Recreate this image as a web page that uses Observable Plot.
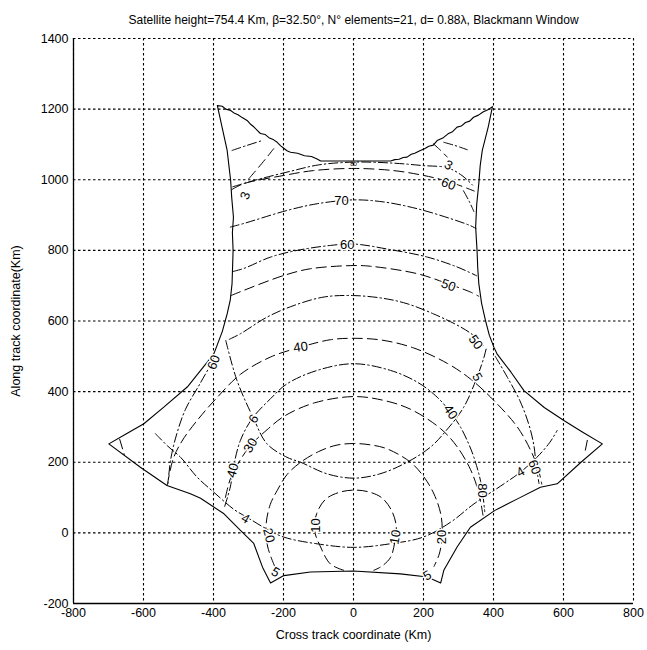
<!DOCTYPE html>
<html>
<head>
<meta charset="utf-8">
<script src="https://cdn.jsdelivr.net/npm/d3@7"></script>
<script src="https://cdn.jsdelivr.net/npm/@observablehq/plot@0.6"></script>
<style>
  html, body { margin: 0; padding: 0; background: #fff; }
  #chart { width: 647px; height: 650px; }
</style>
</head>
<body>
<div id="chart"></div>
<script>
const titleText = "Satellite height=754.4 Km, \u03B2=32.50\u00B0, N\u00B0 elements=21, d= 0.88\u03BB, Blackmann Window";
const xTicks = [-800, -600, -400, -200, 0, 200, 400, 600, 800];
const yTicks = [-200, 0, 200, 400, 600, 800, 1000, 1200, 1400];

// footprint outline (solid, slightly stair-stepped like the original)
const boundary = [
  [-389,1210],[-375,1208],[-365,1200],[-351,1196],[-340,1188],[-330,1184],[-318,1176],[-304,1168],
  [-295,1158],[-285,1150],[-275,1140],[-266,1131],[-252,1128],[-240,1118],[-228,1113],[-218,1106],
  [-208,1096],[-200,1090],[-190,1082],[-180,1078],[-160,1075],[-140,1068],[-120,1066],[-104,1059],
  [-94,1053],[0,1053],[106,1053],[118,1057],[130,1058],[142,1063],[153,1064],[165,1072],[175,1075],
  [191,1083],[203,1088],[215,1095],[228,1098],[239,1111],[255,1118],[270,1130],[283,1136],[296,1149],
  [308,1152],[320,1162],[332,1166],[343,1177],[357,1183],[370,1192],[384,1198],[397,1207],
  [385,1150],[368,1083],[362,1040],[358,989],[352,930],[349,866],[353,800],[355,750],[358,706],
  [366,650],[377,602],[388,560],[401,526],[410,507],
  [450,455],[487,403],[545,355],[601,318],[655,285],[711,252],
  [650,200],[582,139],[534,129],[470,97],[403,63],[334,16],[296,-40],[258,-106],[249,-142],
  [211,-125],[134,-116],[0,-108],[-123,-111],[-199,-121],[-237,-142],
  [-260,-97],[-285,-30],[-323,7],[-370,54],[-437,98],[-466,111],[-533,134],[-609,186],[-699,252],
  [-650,280],[-599,309],[-542,356],[-475,413],[-399,507],[-375,570],[-361,620],[-352,660],[-347,706],
  [-344,800],[-346,850],[-343,894],[-348,950],[-351,998],[-356,1040],[-361,1083],[-389,1210]
];

// dashed contours
const dash10 = [[-28,-106],[-66,-88],[-94,-40],[-112,10],[-105,55],[-80,95],[-40,115],[0,121],[40,117],[80,100],[108,65],[122,20],[118,-25],[106,-69],[80,-95],[58,-106]];
const dash20 = [[-225,-95],[-245,-40],[-250,20],[-238,80],[-218,120],[-190,165],[-151,200],[-100,230],[-50,248],[0,253],[50,249],[96,238],[163,200],[200,160],[230,110],[250,50],[253,-12],[245,-60],[230,-95]];
const dash30 = [[-366,100],[-350,158],[-320,212],[-294,248],[-247,292],[-197,331],[-112,368],[0,386],[87,375],[163,350],[249,295],[296,244],[334,180],[356,120],[370,50]];
const dash40 = [[-532,135],[-515,210],[-490,260],[-447,318],[-389,384],[-323,449],[-237,498],[-151,526],[-66,547],[0,551],[80,546],[171,524],[268,480],[334,436],[401,375],[468,300],[506,234],[528,180],[538,138]];
const dash50 = [[-350,672],[-323,683],[-199,729],[-123,748],[0,757],[49,755],[182,734],[271,705],[334,682],[358,670]];
const dash50L = [[-668,265],[-655,222]];
const dash50R = [[668,262],[660,222]];
const dash60 = [[-348,972],[-313,989],[-200,1012],[-114,1026],[0,1032],[114,1026],[191,1014],[249,1001],[300,985],[345,968]];
const dashTL = [[-299,1003],[-262,1046],[-228,1088]];
const dashTR = [[228,1102],[249,1083],[268,1064]];

// dash-dot contours
const dd3 = [[-345,980],[-284,998],[-180,1024],[-100,1042],[0,1050],[114,1047],[200,1040],[268,1034],[310,1012],[340,985]];
const dd70 = [[-352,866],[-314,876],[-190,913],[-104,932],[0,943],[87,937],[182,918],[277,890],[334,870],[350,862]];
const dd60 = [[-345,740],[-313,749],[-237,781],[-161,800],[-66,814],[0,818],[106,802],[211,781],[296,753],[352,728]];
const dd50 = [[-355,548],[-323,564],[-247,611],[-170,644],[-84,668],[0,672],[86,664],[153,649],[229,620],[306,583],[343,559],[372,530]];
const ddU = [[-365,545],[-333,432],[-285,323],[-247,252],[-190,214],[-151,200],[-75,167],[0,155],[75,167],[153,200],[220,243],[265,290],[315,356],[353,441],[373,498],[380,525]];
const dd40 = [[-368,75],[-352,130],[-341,196],[-323,262],[-290,323],[-237,380],[-190,422],[-104,460],[0,479],[106,460],[182,427],[235,388],[277,342],[306,299],[330,250],[344,214],[360,160],[368,120],[375,60]];
const dd4 = [[-566,281],[-530,245],[-494,214],[-447,158],[-399,115],[-341,66],[-304,44],[-250,12],[-199,-12],[-104,-31],[0,-41],[104,-31],[199,-12],[277,30],[344,82],[430,139],[477,172],[524,214],[560,255],[582,290]];
const dd60L = [[-400,490],[-440,420],[-480,350],[-505,280],[-522,210],[-530,140]];
const dd60R = [[405,500],[440,440],[475,375],[500,310],[515,250],[522,190],[530,140]];
const ddTL = [[-347,1083],[-305,1097],[-261,1111]];
const ddTR = [[258,1106],[290,1097],[325,1085]];
const ddR = [[314,969],[330,940],[344,910]];

// contour labels
const labelText = ["3","60","3","70","60","50","50","60","40","6","5","40","30","40","4","20","10","5","10","20","5","80","4","60"];
const labelX   = [271, 271, -309, -34, -18, 271, 349, -399, -151, -285, 353, 277, -294, -345, -309, -242, -109, -223, 120, 253, 211, 368, 477, 517];
const labelY   = [1041, 988, 955, 941, 817, 701, 540, 483, 526, 323, 441, 342, 248, 177, 40, -7, 21, -111, -12, -12, -121, 120, 172, 186];
const labelRot = [30, 20, -70, 0, 0, 20, 55, -70, -8, -55, 60, 55, -60, -75, 30, 75, -90, 30, -80, -90, -30, 90, -30, 70];
const tinyLabel = ["80"];

const labels = labelText.map((t, i) => ({t, x: labelX[i], y: labelY[i], r: labelRot[i]}));

const dashedCurves = [dash10, dash20, dash30, dash40, dash50, dash50L, dash50R, dash60, dashTL, dashTR];
const dashDotCurves = [dd3, dd70, dd60, dd50, ddU, dd40, dd4, dd60L, dd60R, ddTL, ddTR, ddR];

const lineOpts = (dash) => ({x: d => d[0], y: d => d[1], curve: "catmull-rom", stroke: "black", strokeWidth: 1, strokeDasharray: dash});

const chart = Plot.plot({
  width: 647,
  height: 650,
  marginLeft: 73,
  marginRight: 14,
  marginTop: 38,
  marginBottom: 47,
  style: {fontFamily: "'Liberation Sans', Arial, Helvetica, sans-serif", fontSize: "12px", background: "white", color: "black"},
  x: {domain: [-800, 800]},
  y: {domain: [-200, 1400]},
  marks: [
    Plot.gridX(xTicks, {stroke: "black", strokeOpacity: 1, strokeWidth: 1.1, strokeDasharray: "2.5,2.5"}),
    Plot.gridY(yTicks, {stroke: "black", strokeOpacity: 1, strokeWidth: 1.1, strokeDasharray: "2.5,2.5"}),
    Plot.ruleX([-800], {stroke: "black", strokeWidth: 1.3}),
    Plot.ruleY([-200], {stroke: "black", strokeWidth: 1.3}),
    Plot.axisX({ticks: xTicks, tickSize: 0, tickPadding: 5, tickFormat: d => String(d), fontSize: 12.5,
      label: "Cross track coordinate (Km)", labelAnchor: "center", labelArrow: "none", labelOffset: 35}),
    Plot.axisY({ticks: yTicks, tickSize: 0, tickPadding: 5, tickFormat: d => String(d), fontSize: 12.5,
      label: "Along track coordinate(Km)", labelAnchor: "center", labelArrow: "none", labelOffset: 62}),
    ...dashedCurves.map(c => Plot.line(c, lineOpts("10,5"))),
    ...dashDotCurves.map(c => Plot.line(c, lineOpts("9,3,1.5,3"))),
    Plot.line(boundary, {x: d => d[0], y: d => d[1], stroke: "black", strokeWidth: 1.1}),
    Plot.text(labels, {x: "x", y: "y", text: "t", rotate: "r", fontSize: 13, fill: "black", stroke: "white", strokeWidth: 3}),
    Plot.text(tinyLabel, {x: 0, y: 1043, text: d => d, fontSize: 6, fill: "black"}),
    Plot.text([titleText], {frameAnchor: "top", dy: -23, fontSize: 12, fill: "black"})
  ]
});
document.getElementById("chart").appendChild(chart);
</script>
</body>
</html>
